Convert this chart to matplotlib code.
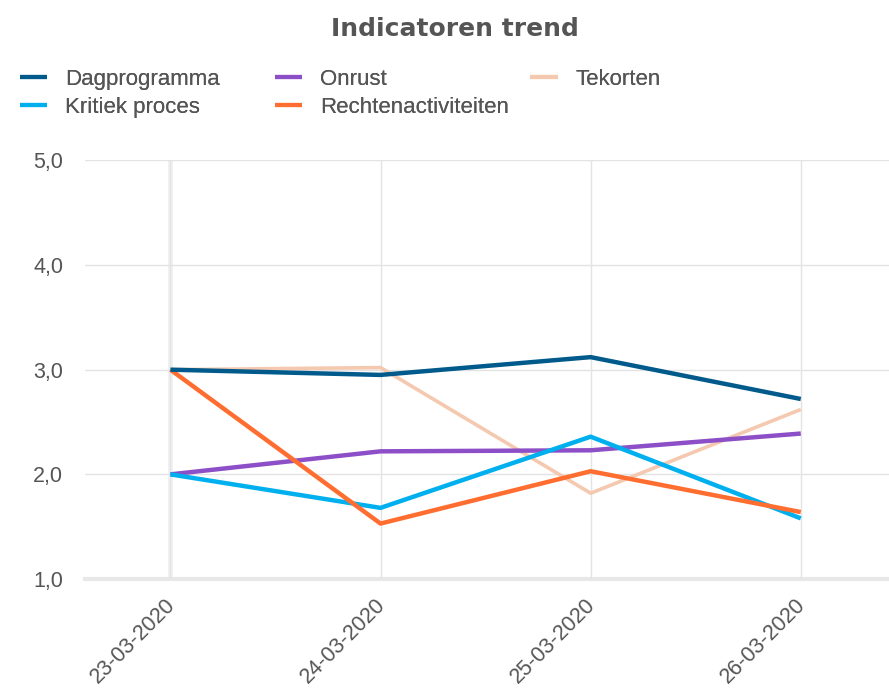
import matplotlib
matplotlib.use("Agg")
import matplotlib.pyplot as plt
from matplotlib.transforms import ScaledTranslation

dates = ["23-03-2020", "24-03-2020", "25-03-2020", "26-03-2020"]
dagprogramma = [3.0, 2.95, 3.12, 2.72]
kritiek_proces = [2.0, 1.68, 2.36, 1.58]
onrust = [2.0, 2.22, 2.23, 2.39]
rechtenactiviteiten = [3.0, 1.53, 2.03, 1.64]
tekorten = [3.0, 3.02, 1.82, 2.62]
yticks = [1.0, 2.0, 3.0, 4.0, 5.0]
ytick_labels = ["1,0", "2,0", "3,0", "4,0", "5,0"]

plt.rcParams['font.family'] = ['Liberation Sans', 'DejaVu Sans']

fig = plt.figure(figsize=(8.89, 6.91), dpi=100)
ax = fig.add_axes([0.096, 0.162, 0.904, 0.606])

x = list(range(len(dates)))
series = [
    ("Dagprogramma", dagprogramma, "#005b8c", 3.2, 5),
    ("Kritiek proces", kritiek_proces, "#00b0ee", 3.2, 4),
    ("Onrust", onrust, "#8c4fc8", 3.2, 3),
    ("Rechtenactiviteiten", rechtenactiviteiten, "#ff6e30", 3.2, 4),
    ("Tekorten", tekorten, "#f5c8b0", 2.6, 2),
]
handles = {}
for name, vals, col, lw, z in series:
    ln, = ax.plot(x, vals, color=col, lw=lw, label=name, zorder=z, solid_capstyle='butt')
    handles[name] = ln

ax.set_ylim(1, 5)
ax.set_xlim(-0.405, 3.42)
ax.set_yticks(yticks)
ax.set_yticklabels(ytick_labels)
ax.set_xticks(x)
ax.set_xticklabels(dates, rotation=45, ha='right', rotation_mode='anchor')
ax.tick_params(axis='both', length=0, labelcolor='#555555')
ax.tick_params(axis='y', labelsize=15.5, pad=16)
ax.tick_params(axis='x', labelsize=15.5, pad=11)
offset = ScaledTranslation(-6 / 100, 0, fig.dpi_scale_trans)
for lbl in ax.get_xticklabels():
    lbl.set_transform(lbl.get_transform() + offset)
for s in ax.spines.values():
    s.set_visible(False)
ax.grid(True, color='#e3e3e3', lw=1)
ax.set_axisbelow(True)
ax.axvline(0, color='#eef0f3', lw=3.5, zorder=0.5)
ax.axhline(1.0, color='#e8e8e8', lw=3, zorder=0.5, clip_on=False)

fig.text(0.512, 0.958, "Indicatoren trend", ha='center', va='center',
         fontsize=18, fontweight='bold', color='#555555', family='DejaVu Sans')

groups = [["Dagprogramma", "Kritiek proces"], ["Onrust", "Rechtenactiviteiten"], ["Tekorten"]]
xpos = [0.022, 0.309, 0.596]
for names, xp in zip(groups, xpos):
    leg = fig.legend([handles[n] for n in names], names, loc='upper left',
                     bbox_to_anchor=(xp, 0.9), ncol=1, frameon=False,
                     fontsize=16, handlelength=1.25, labelspacing=0.32,
                     handletextpad=0.8, borderaxespad=0, borderpad=0)
    for t in leg.get_texts():
        t.set_color('#555555')
    for h in leg.legend_handles:
        h.set_linewidth(3)
    fig.add_artist(leg)

fig.savefig("out.png", dpi=100)
